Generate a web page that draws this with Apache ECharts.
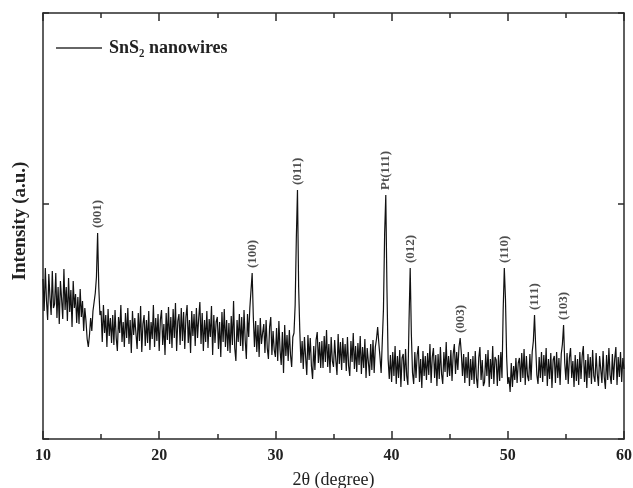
<!DOCTYPE html>
<html>
<head>
<meta charset="utf-8">
<script src="https://cdn.jsdelivr.net/npm/echarts@6/dist/echarts.min.js"></script>
<style>
html,body{margin:0;padding:0;background:#fff;}
#chart{width:633px;height:488px;}
</style>
</head>
<body>
<div id="chart"></div>
<script>
// 2θ sampling grid (degrees)
const twoThetaStart = 10.0;
const twoThetaStep = 0.1;

// Intensity (a.u.), one row per degree: 10.0–10.9, 11.0–11.9, ... 59.0–59.9, then 60.0
const intensity = [
  160,128,171,138,119,165,142,124,168,131,
  135,166,121,152,115,158,140,120,170,129,
  152,118,161,127,149,112,158,131,145,116,
  142,115,150,122,138,108,131,118,100,92,
  104,121,108,128,137,146,162,206,152,124,
  128,97,134,106,124,92,130,103,121,96,
  124,94,129,101,88,122,106,134,97,117,
  92,126,101,131,95,119,86,128,104,121,
  121,90,126,98,133,87,115,124,93,119,
  96,128,89,117,100,134,92,121,98,125,
  88,119,129,94,115,84,126,99,132,95,
  122,91,130,101,136,88,118,125,94,131,
  98,127,90,122,134,96,119,86,128,103,
  125,93,131,101,121,137,95,126,88,119,
  97,128,91,120,102,133,84,124,96,117,
  122,90,117,82,127,97,130,92,119,88,
  116,86,123,94,138,91,78,119,97,125,
  93,122,88,129,99,80,125,102,131,130,
  166,122,92,118,87,114,82,121,95,106,
  115,86,119,91,80,112,122,84,108,89,
  82,111,78,118,89,74,107,66,114,83,
  104,78,109,84,72,102,106,134,200,249,
  152,108,76,98,70,102,82,64,104,79,
  101,73,60,93,69,99,107,76,97,71,
  98,71,103,77,109,72,95,66,102,78,
  72,99,79,64,105,75,97,69,101,76,
  95,68,102,73,63,98,77,106,70,93,
  67,96,74,103,65,92,71,100,61,91,
  89,63,95,69,99,66,92,100,112,96,
  82,66,98,130,205,244,150,80,60,84,
  57,87,63,93,55,83,61,89,52,81,
  85,58,90,63,54,118,171,105,66,55,
  87,61,84,93,57,80,51,88,63,83,
  59,86,64,95,56,82,91,61,84,53,
  85,60,92,65,55,87,67,97,62,83,
  63,89,58,85,95,65,87,69,92,101,
  86,63,85,56,82,61,87,53,80,59,
  83,55,88,61,51,81,92,59,79,53,
  57,85,63,89,52,80,60,93,55,82,
  79,53,84,58,87,61,128,171,140,82,
  55,62,47,76,52,73,59,81,56,76,
  81,57,86,61,90,54,83,63,58,85,
  59,87,98,124,92,64,55,82,61,87,
  57,84,63,91,53,80,60,86,51,79,
  83,56,87,61,81,54,85,95,114,76,
  59,86,55,81,91,61,78,52,84,58,
  80,54,87,60,83,93,57,79,51,85,
  61,82,55,89,63,57,86,65,53,83,
  81,56,88,62,50,84,59,91,64,55,
  85,59,80,92,54,82,62,87,57,81,
  70
];

// Peak annotations
const peakTheta = [14.7, 28.0, 31.9, 39.5, 41.6, 45.9, 49.7, 52.3, 54.8];
const peakTop   = [206, 166, 249, 244, 171, 101, 171, 124, 114];
const peakNames = ['(001)', '(100)', '(011)', 'Pt(111)', '(012)', '(003)', '(110)', '(111)', '(103)'];

const seriesName = 'SnS₂ nanowires';

const lineData = intensity.map((v, i) => [+(twoThetaStart + i * twoThetaStep).toFixed(1), v]);
const labelData = peakTheta.map((t, i) => [t, peakTop[i], peakNames[i]]);

const serif = "'Liberation Serif', 'Times New Roman', serif";
const axisColor = '#2a2a2a';

const chart = echarts.init(document.getElementById('chart'), null, {renderer: 'canvas'});
chart.setOption({
  animation: false,
  backgroundColor: '#fff',
  grid: {left: 43, right: 9, top: 13, bottom: 49, containLabel: false, outerBoundsMode: 'none'},
  legend: {
    data: [seriesName],
    left: 51, top: 34,
    icon: 'rect',
    itemWidth: 46, itemHeight: 1.5, itemGap: 6,
    itemStyle: {color: '#333'},
    textStyle: {fontFamily: serif, fontSize: 18, fontWeight: 'bold', color: '#222', padding: [0, 0, 0, 2]}
  },
  xAxis: [{
    type: 'value', min: 10, max: 60, interval: 10, position: 'bottom',
    axisLine: {show: true, onZero: false, lineStyle: {color: axisColor, width: 1.5}},
    axisTick: {show: true, inside: true, length: 8, lineStyle: {color: axisColor, width: 1.5}},
    minorTick: {show: true, splitNumber: 2, length: 5, lineStyle: {color: axisColor, width: 1.5}},
    axisLabel: {fontFamily: serif, fontSize: 16, fontWeight: 'bold', color: '#222', margin: 9},
    splitLine: {show: false},
    name: '2θ (degree)', nameLocation: 'middle', nameGap: 32,
    nameTextStyle: {fontFamily: serif, fontSize: 18, color: '#222', verticalAlign: 'top'}
  }, {
    type: 'value', min: 10, max: 60, interval: 10, position: 'top',
    axisLine: {show: true, onZero: false, lineStyle: {color: axisColor, width: 1.5}},
    axisTick: {show: true, inside: true, length: 8, lineStyle: {color: axisColor, width: 1.5}},
    minorTick: {show: true, splitNumber: 2, length: 5, lineStyle: {color: axisColor, width: 1.5}},
    axisLabel: {show: false},
    splitLine: {show: false}
  }],
  yAxis: [{
    type: 'value', min: 0, max: 426, interval: 235, position: 'left',
    axisLine: {show: true, onZero: false, lineStyle: {color: axisColor, width: 1.5}},
    axisTick: {show: true, inside: true, length: 6, lineStyle: {color: axisColor, width: 1.5}},
    axisLabel: {show: false},
    splitLine: {show: false}
  }, {
    type: 'value', min: 0, max: 426, interval: 235, position: 'right',
    axisLine: {show: true, onZero: false, lineStyle: {color: axisColor, width: 1.5}},
    axisTick: {show: true, inside: true, length: 6, lineStyle: {color: axisColor, width: 1.5}},
    axisLabel: {show: false},
    splitLine: {show: false}
  }],
  graphic: [{
    type: 'text',
    x: 20, y: 221, rotation: Math.PI / 2,
    style: {
      text: 'Intensity (a.u.)',
      fontFamily: serif, fontSize: 19, fontWeight: 'bold', fill: '#222',
      align: 'center', verticalAlign: 'middle'
    }
  }],
  series: [{
    name: seriesName,
    type: 'line',
    data: lineData,
    showSymbol: false,
    symbol: 'none',
    lineStyle: {color: '#111', width: 1.2},
    itemStyle: {color: '#333'},
    z: 2
  }, {
    name: 'peaks',
    type: 'scatter',
    data: labelData,
    symbolSize: 0,
    silent: true,
    label: {
      show: true,
      position: 'top',
      distance: 5,
      rotate: 90,
      align: 'left',
      verticalAlign: 'middle',
      formatter: p => p.value[2],
      fontFamily: serif, fontSize: 13, fontWeight: 'bold', color: '#222'
    },
    z: 3
  }]
});
</script>
</body>
</html>
